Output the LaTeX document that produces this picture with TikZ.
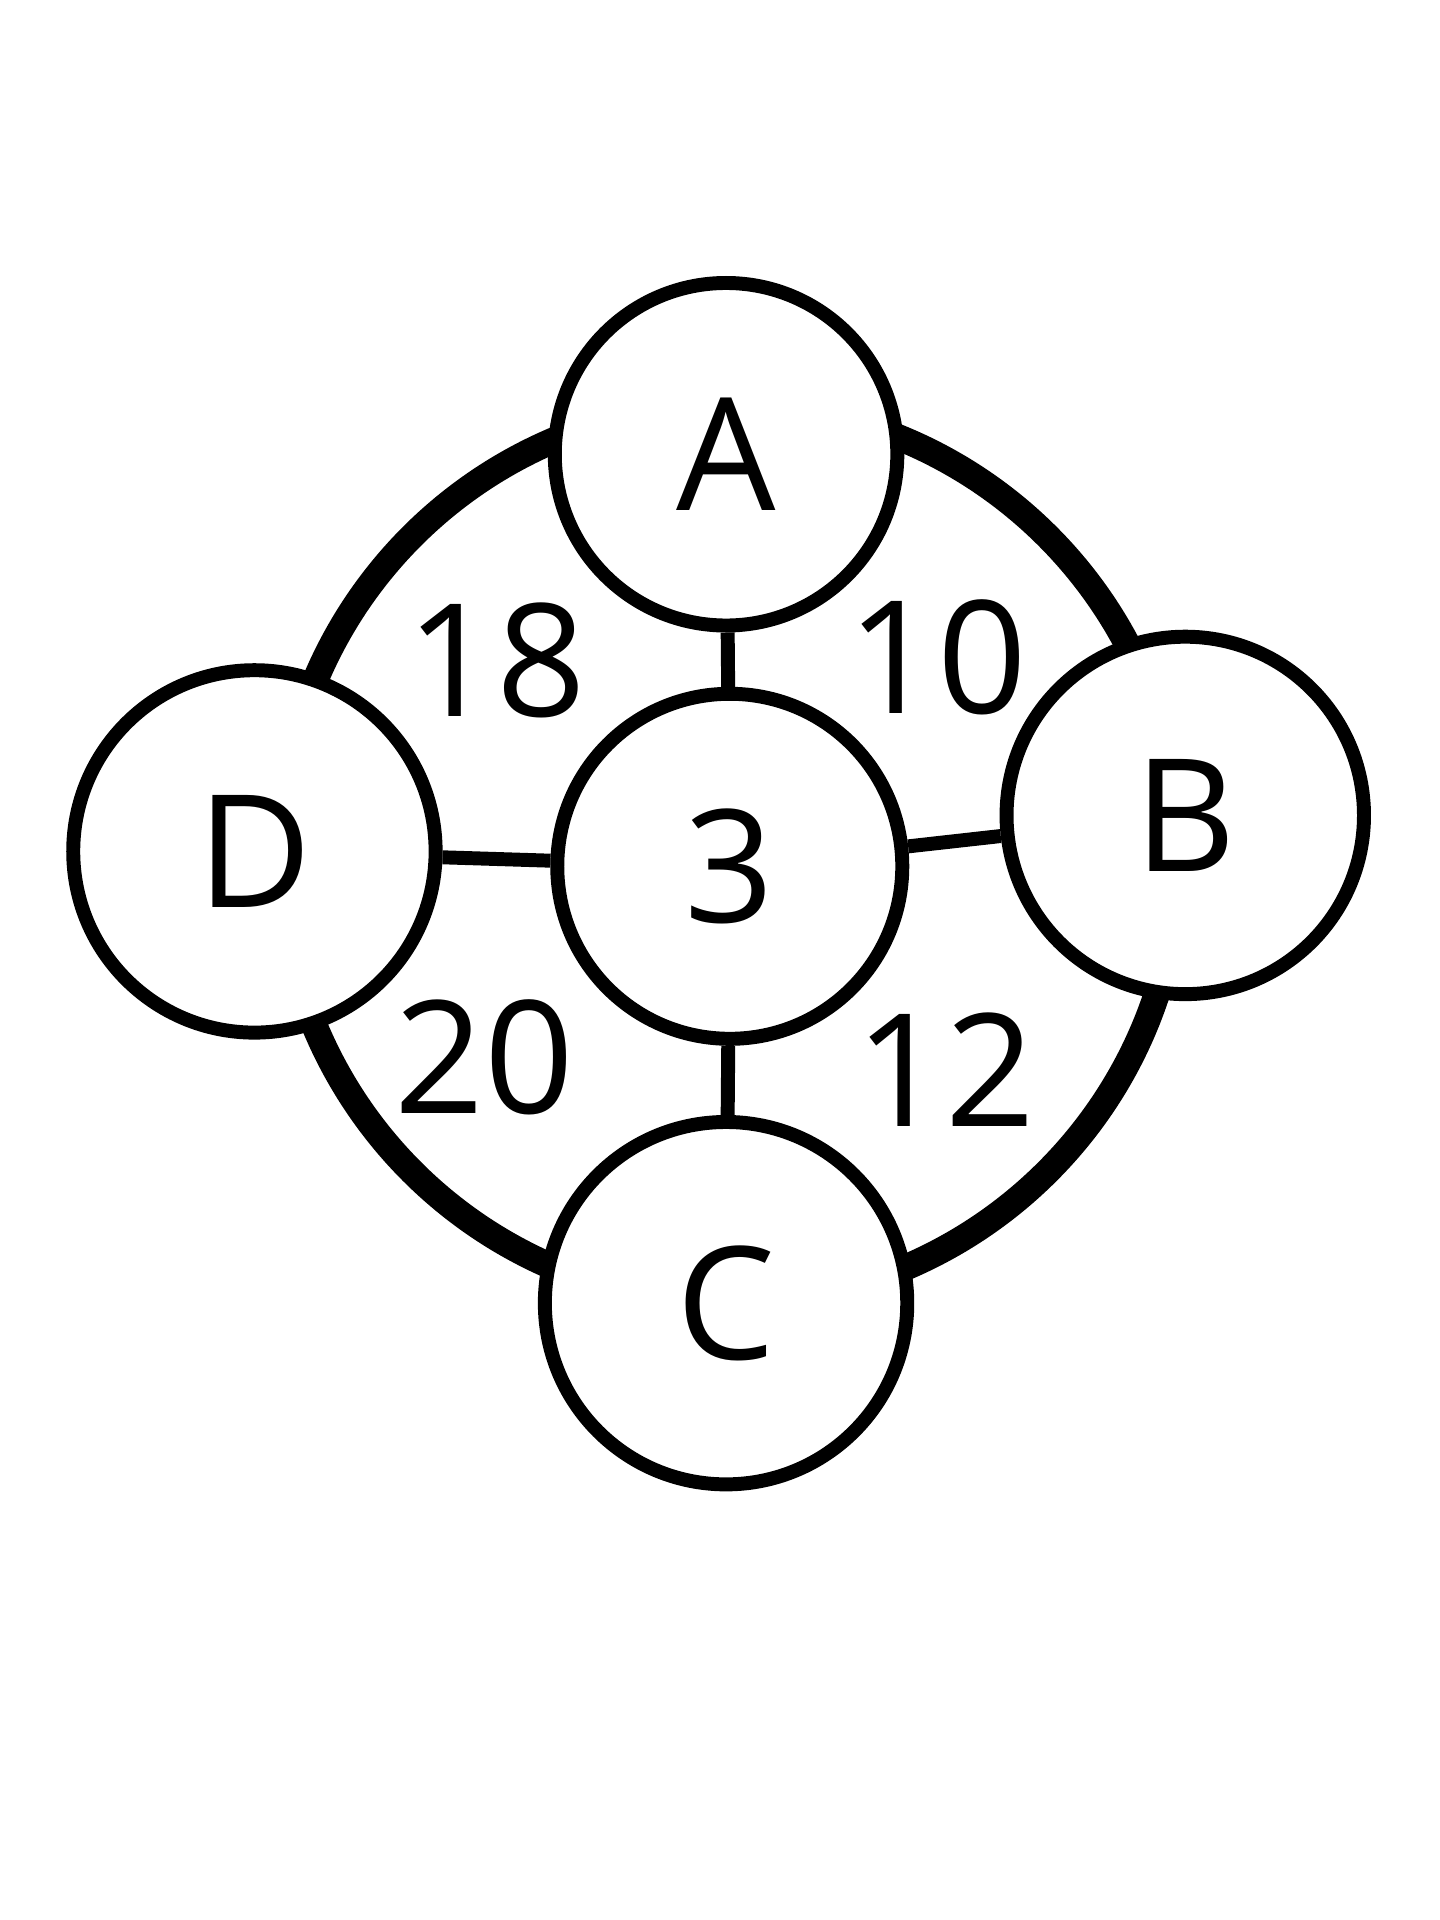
\documentclass[tikz,border=0pt]{standalone}
\usepackage{fontspec}
\setmainfont{Open Sans}
\usetikzlibrary{positioning}
\tikzset{
  cnode/.style={circle, draw=black, line width=3.2pt, fill=white, inner sep=0pt, font=\fontsize{36}{40}\selectfont},
  wlabel/.style={font=\fontsize{36}{40}\selectfont},
  link/.style={line width=3.2pt}
}
\begin{document}
\begin{tikzpicture}
        \useasboundingbox (0,0) rectangle (11.6,-15.47);
        \draw[line width=6pt] (5.88,-6.88) circle (3.62);

        \node (c3) at (5.88,-6.98)[cnode, minimum size=2.78cm] {3};
        \node (a) at (5.85,-3.66)[cnode, minimum size=2.76cm] {A};
        \node (b) at (9.55,-6.57)[cnode, minimum size=2.88cm] {B};
        \node (c) at (5.85,-10.5)[cnode, minimum size=2.92cm] {C};
        \node (d) at (2.05,-6.86)[cnode, minimum size=2.92cm] {D};

        \draw[link] (a) -- (c3);
        \draw[link] (d) -- (c3);
        \draw[link] (c3) -- (b);
        \draw[link] (c3) -- (c);

        \node (w18) at (4.0,-5.32)[wlabel] {18};
        \node (w10) at (7.55,-5.30)[wlabel] {10};
        \node (w20) at (3.9,-8.52)[wlabel] {20};
        \node (w12) at (7.62,-8.62)[wlabel] {12};
    \end{tikzpicture}
\end{document}
